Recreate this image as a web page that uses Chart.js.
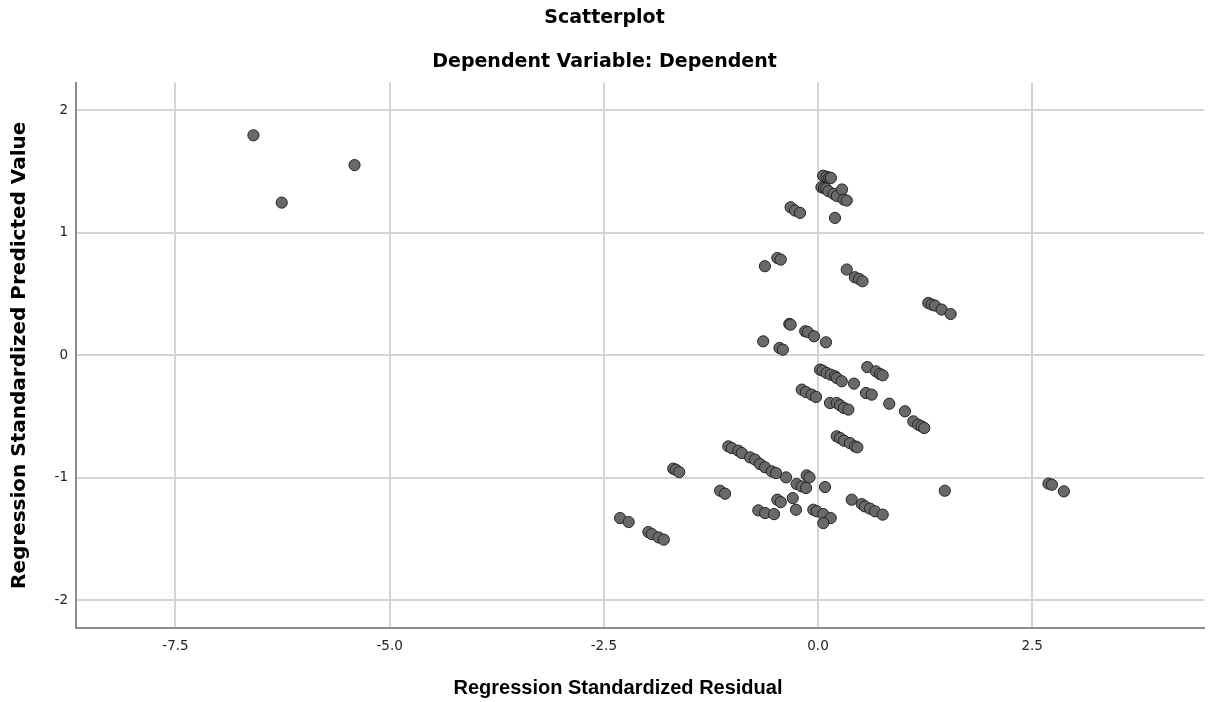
<!DOCTYPE html>
<html lang="en">
<head>
  <meta charset="UTF-8" />
  <title>Scatterplot</title>
  <script src="https://cdn.jsdelivr.net/npm/chart.js"></script>
  <style>
    html, body {
      margin: 0;
      padding: 0;
      background: #ffffff;
    }
    #wrap {
      width: 1211px;
      height: 702px;
    }
  </style>
</head>
<body>

<div id="wrap"><canvas id="scatter"></canvas></div>

<script>
  // Regression Standardized Residual (x) / Predicted Value (y)
  const residual = [
    -6.59, -6.26, -5.41,
    0.06, 0.10, 0.13, 0.15,
    0.04, 0.07, 0.095, 0.12, 0.18, 0.22, 0.28, 0.30, 0.335,
    0.198,
    -0.32, -0.27, -0.21,
    -0.475, -0.435, -0.62, 0.335,
    0.43, 0.48, 0.52,
    1.287, 1.327, 1.365, 1.443, 1.548,
    -0.335, -0.32, -0.15, -0.12, -0.047, -0.64, -0.45, -0.41, 0.093,
    0.023, 0.055, 0.10, 0.148, 0.198, 0.218, 0.277, 0.42,
    0.575, 0.677, 0.723, 0.755, 0.56, 0.627, 0.832, 1.015,
    1.112, 1.17, 1.21, 1.24,
    -0.19, -0.14, -0.074, -0.023,
    0.14, 0.218, 0.257, 0.303, 0.354,
    0.218, 0.257, 0.303, 0.373, 0.432, 0.459,
    -1.047, -1.007, -0.93, -0.89, -0.793, -0.735, -0.677, -0.618, -0.54, -0.49, -0.373,
    -0.132, -0.1, -0.25, -0.19, -0.14, 0.082, 1.48,
    -1.143, -1.085, -0.475, -0.435, -0.295, -0.257,
    -0.697, -0.618, -0.513,
    -0.055, -0.015, 0.062, 0.148, 0.062,
    0.393, 0.51, 0.548, 0.607, 0.665, 0.755,
    -1.69, -1.66, -1.62,
    -2.31, -2.21, -1.98, -1.94, -1.86, -1.80,
    2.69, 2.73, 2.87
  ];
  const predicted = [
    1.795, 1.246, 1.552,
    1.465, 1.457, 1.45, 1.447,
    1.371, 1.365, 1.36, 1.34, 1.317, 1.30, 1.353, 1.271, 1.263,
    1.121,
    1.208, 1.181, 1.162,
    0.794, 0.781, 0.727, 0.70,
    0.637, 0.623, 0.604,
    0.427, 0.414, 0.406, 0.373, 0.337,
    0.256, 0.25, 0.196, 0.19, 0.155, 0.114, 0.06, 0.046, 0.106,
    -0.117, -0.125, -0.144, -0.158, -0.171, -0.185, -0.212, -0.231,
    -0.096, -0.131, -0.153, -0.163, -0.308, -0.321, -0.395, -0.457,
    -0.539, -0.566, -0.58, -0.593,
    -0.28, -0.30, -0.321, -0.34,
    -0.389, -0.389, -0.408, -0.43, -0.443,
    -0.661, -0.675, -0.697, -0.716, -0.743, -0.751,
    -0.743, -0.757, -0.778, -0.797, -0.833, -0.851, -0.887, -0.914, -0.947, -0.961, -0.996,
    -0.98, -0.996, -1.05, -1.07, -1.083, -1.075, -1.105,
    -1.105, -1.129, -1.178, -1.198, -1.165, -1.26,
    -1.265, -1.287, -1.296,
    -1.26, -1.273, -1.296, -1.328, -1.369,
    -1.178, -1.214, -1.233, -1.251, -1.273, -1.3,
    -0.925, -0.933, -0.953,
    -1.328, -1.36, -1.442, -1.459, -1.486, -1.504,
    -1.047, -1.056, -1.11
  ];

  const xTicks = [-7.5, -5.0, -2.5, 0.0, 2.5];
  const yTicks = [-2, -1, 0, 1, 2];

  const points = residual.map((x, i) => ({ x: x, y: predicted[i] }));

  // x-axis title drawn under the plot, slightly left of the plot centre like the original
  const xTitle = {
    id: "xTitle",
    afterDraw(chart) {
      const ctx = chart.ctx;
      ctx.save();
      ctx.font = "bold 20px 'Liberation Sans', Arial, sans-serif";
      ctx.fillStyle = "#000";
      ctx.textAlign = "center";
      ctx.textBaseline = "middle";
      ctx.fillText("Regression Standardized Residual", 618, 688);
      ctx.restore();
    }
  };

  new Chart(document.getElementById("scatter"), {
    type: "scatter",
    data: {
      datasets: [{
        data: points,
        pointRadius: 5.6,
        pointHoverRadius: 5.6,
        backgroundColor: "#696969",
        borderColor: "#242424",
        borderWidth: 1
      }]
    },
    options: {
      responsive: true,
      maintainAspectRatio: false,
      animation: false,
      layout: { padding: { top: 0, right: 2, bottom: 0, left: 0 } },
      plugins: {
        legend: { display: false },
        tooltip: { enabled: false },
        title: {
          display: true,
          text: "Scatterplot",
          color: "#000",
          font: { family: "'DejaVu Sans', sans-serif", size: 19, weight: "bold" },
          padding: { top: 7, bottom: 10 }
        },
        subtitle: {
          display: true,
          text: "Dependent Variable: Dependent",
          color: "#000",
          font: { family: "'DejaVu Sans', sans-serif", size: 19, weight: "bold" },
          padding: { top: 11, bottom: 9 }
        }
      },
      scales: {
        x: {
          type: "linear",
          min: -8.661,
          max: 4.51,
          afterBuildTicks: s => { s.ticks = xTicks.map(v => ({ value: v })); },
          afterFit: s => { s.height = 74; },
          ticks: {
            color: "#222",
            font: { family: "'DejaVu Sans', sans-serif", size: 13.5 },
            padding: 10,
            callback: v => v.toFixed(1)
          },
          grid: { color: "#d4d4d4", lineWidth: 2, drawTicks: false },
          border: { display: true, color: "#8c8c8c", width: 2 },
          title: { display: false }
        },
        y: {
          type: "linear",
          min: -2.225,
          max: 2.225,
          afterBuildTicks: s => { s.ticks = yTicks.map(v => ({ value: v })); },
          afterFit: s => { s.width = 76; },
          ticks: {
            color: "#222",
            font: { family: "'DejaVu Sans', sans-serif", size: 13.5 },
            padding: 8,
            callback: v => String(v)
          },
          grid: { color: "#d4d4d4", lineWidth: 2, drawTicks: false },
          border: { display: true, color: "#8c8c8c", width: 2 },
          title: {
            display: true,
            text: "Regression Standardized Predicted Value",
            color: "#000",
            font: { family: "'DejaVu Sans', sans-serif", size: 20, weight: "bold" },
            padding: { top: 8, bottom: 0 }
          }
        }
      }
    },
    plugins: [xTitle]
  });
</script>

</body>
</html>
